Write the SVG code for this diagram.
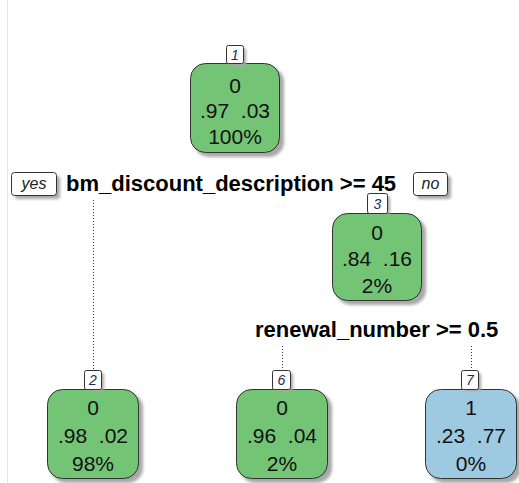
<svg xmlns="http://www.w3.org/2000/svg" width="519" height="483" viewBox="0 0 519 483">
<defs>
<filter id="sh" x="-20%" y="-20%" width="140%" height="140%">
<feGaussianBlur stdDeviation="1.5"/>
</filter>
<style>
.box{stroke:#333;stroke-width:1}
.g{fill:#74C476}
.b{fill:#9ECAE1}
.shadow{fill:#a8a8a8;filter:url(#sh)}
.lbl{fill:#fff;stroke:#333;stroke-width:1}
.t{font-family:"Liberation Sans",Arial,sans-serif;font-size:21px;fill:#111;text-anchor:middle;white-space:pre}
.num{font-family:"Liberation Sans",Arial,sans-serif;font-size:14px;font-style:italic;fill:#1a2a5a;text-anchor:middle}
.split{font-family:"Liberation Sans",Arial,sans-serif;font-size:22px;font-weight:bold;fill:#000}
.yn{font-family:"Liberation Sans",Arial,sans-serif;font-size:16px;font-style:italic;fill:#222;text-anchor:middle}
.con{stroke:#333;stroke-width:1;stroke-dasharray:1 2;fill:none}
</style>
</defs>
<rect width="519" height="483" fill="#fff"/>
<line x1="7.5" y1="0" x2="7.5" y2="483" stroke="#e6e6e6" stroke-width="1"/>
<g id="connectors">
<line class="con" x1="93.5" y1="200" x2="93.5" y2="370"/>
<line class="con" x1="282.5" y1="346" x2="282.5" y2="370"/>
<line class="con" x1="471.5" y1="346" x2="471.5" y2="370"/>
</g>
<g id="split1">
<rect class="shadow" x="15" y="176" width="45" height="23" rx="3"/>
<rect class="lbl" x="11.5" y="172.5" width="45" height="23" rx="3"/>
<text class="yn" x="34" y="189">yes</text>
<text class="split" x="66" y="191">bm_discount_description &gt;= 45</text>
<rect class="shadow" x="417" y="176" width="34" height="23" rx="3"/>
<rect class="lbl" x="413.5" y="172.5" width="34" height="23" rx="3"/>
<text class="yn" x="430.5" y="189">no</text>
</g>
<g id="split3">
<text class="split" x="255" y="337">renewal_number &gt;= 0.5</text>
</g>
<g id="node1">
<rect class="shadow" x="194" y="67" width="90" height="90" rx="15"/>
<rect class="box g" x="190.5" y="63.5" width="89" height="89" rx="15"/>
<rect class="shadow" x="229" y="48" width="17" height="18" rx="2"/>
<rect class="lbl" x="226.5" y="45.5" width="17" height="18" rx="2"/>
<text class="num" x="235" y="60">1</text>
<text class="t" x="235" y="93">0</text>
<text class="t" x="235" y="118">.97  .03</text>
<text class="t" x="235" y="144">100%</text>
</g>
<g id="node3">
<rect class="shadow" x="336" y="217" width="90" height="88" rx="15"/>
<rect class="box g" x="332.5" y="213.5" width="89" height="87" rx="15"/>
<rect class="shadow" x="370" y="196" width="20" height="18" rx="2"/>
<rect class="lbl" x="367.5" y="193.5" width="20" height="20" rx="2"/>
<text class="num" x="377.5" y="209">3</text>
<text class="t" x="377" y="240">0</text>
<text class="t" x="377" y="266">.84  .16</text>
<text class="t" x="377" y="293">2%</text>
</g>
<g id="node2">
<rect class="shadow" x="51" y="393" width="92" height="90" rx="15"/>
<rect class="box g" x="47.5" y="389.5" width="91" height="89" rx="15"/>
<rect class="shadow" x="87" y="373" width="17" height="18" rx="2"/>
<rect class="lbl" x="84.5" y="370.5" width="17" height="19" rx="2"/>
<text class="num" x="93" y="385">2</text>
<text class="t" x="93" y="415">0</text>
<text class="t" x="93" y="443">.98  .02</text>
<text class="t" x="93" y="471">98%</text>
</g>
<g id="node6">
<rect class="shadow" x="240" y="393" width="92" height="90" rx="15"/>
<rect class="box g" x="236.5" y="389.5" width="91" height="89" rx="15"/>
<rect class="shadow" x="275" y="373" width="18" height="18" rx="2"/>
<rect class="lbl" x="272.5" y="370.5" width="18" height="19" rx="2"/>
<text class="num" x="281.5" y="385">6</text>
<text class="t" x="282" y="415">0</text>
<text class="t" x="282" y="443">.96  .04</text>
<text class="t" x="282" y="471">2%</text>
</g>
<g id="node7">
<rect class="shadow" x="429" y="393" width="92" height="90" rx="15"/>
<rect class="box b" x="425.5" y="389.5" width="91" height="89" rx="15"/>
<rect class="shadow" x="464" y="373" width="17" height="18" rx="2"/>
<rect class="lbl" x="461.5" y="370.5" width="17" height="19" rx="2"/>
<text class="num" x="470" y="385">7</text>
<text class="t" x="471" y="415">1</text>
<text class="t" x="471" y="443">.23  .77</text>
<text class="t" x="471" y="471">0%</text>
</g>
</svg>
